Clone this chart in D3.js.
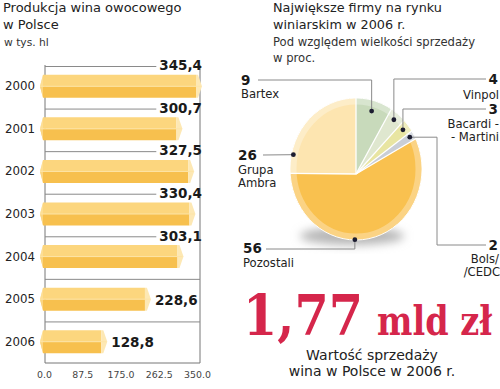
<!DOCTYPE html>
<html>
<head>
<meta charset="utf-8">
<script src="https://cdn.jsdelivr.net/npm/d3@7"></script>
<style>
  html, body { margin: 0; padding: 0; background: #fff; }
  svg { display: block; font-family: "DejaVu Sans", sans-serif; }
</style>
</head>
<body>
<svg id="chart" width="500" height="389"></svg>
<script>
// ---------- DATA ----------
const years = ["2000", "2001", "2002", "2003", "2004", "2005", "2006"];
const production = [345.4, 300.7, 327.5, 330.4, 303.1, 228.6, 128.8];
const xTicks = [0, 87.5, 175, 262.5, 350];

const firms = ["Bartex", "Vinpol", "Bacardi - Martini", "Bols/CEDC", "Pozostali", "Grupa Ambra"];
const shares = [9, 4, 3, 2, 56, 26];

const leftTitle = ["Produkcja wina owocowego", "w Polsce"];
const leftUnit = "w tys. hl";
const rightTitle = ["Największe firmy na rynku", "winiarskim w 2006 r."];
const rightSub = ["Pod względem wielkości sprzedaży", "w proc."];
const bigValue = "1,77";
const bigUnit = "mld zł";
const bigCaption = ["Wartość sprzedaży", "wina w Polsce w 2006 r."];

// ---------- SETUP ----------
const svg = d3.select("#chart");
const fmtComma = v => d3.format(".1f")(v).replace(".", ",");
const txtColor = "#222";

const defs = svg.append("defs");
defs.append("filter").attr("id", "blur").attr("x", "-50%").attr("y", "-50%").attr("width", "200%").attr("height", "200%")
  .append("feGaussianBlur").attr("stdDeviation", 5);

// ---------- LEFT: BAR CHART ----------
svg.selectAll("text.ltitle").data(leftTitle).join("text")
  .attr("x", 3).attr("y", (d, i) => 12 + i * 17)
  .attr("font-size", 13).attr("fill", txtColor).text(d => d);
svg.append("text").attr("x", 4).attr("y", 46).attr("font-size", 10.7).attr("fill", "#333").text(leftUnit);

const x = d3.scaleLinear().domain([0, 350]).range([45, 198]);
const y = d3.scaleBand().domain(years).range([65, 363]).paddingInner(0.46).paddingOuter(0.23);
const step = y.step();
const bh = y.bandwidth();
const frameRight = 200, frameTop = 65, frameBottom = 363;

const gBars = svg.append("g");
gBars.append("line").attr("x1", x(0)).attr("x2", x(0)).attr("y1", frameTop).attr("y2", frameBottom)
  .attr("stroke", "#777").attr("stroke-width", 1);
gBars.append("line").attr("x1", frameRight).attr("x2", frameRight).attr("y1", frameTop).attr("y2", frameBottom)
  .attr("stroke", "#777").attr("stroke-width", 1);
gBars.append("line").attr("x1", x(0)).attr("x2", frameRight).attr("y1", frameBottom).attr("y2", frameBottom)
  .attr("stroke", "#777").attr("stroke-width", 1);

years.forEach((yr, i) => {
  const v = production[i];
  const y0 = y(yr), y1 = y0 + bh, yc = y0 + bh / 2;
  const x0 = x(0), xv = x(v);
  const slotTop = y0 - (step - bh) / 2;
  const g = gBars.append("g");

  const lab = g.append("text").attr("font-size", 13.5).attr("font-weight", "bold").attr("fill", "#1a1a1a")
    .text(fmtComma(v));
  const w = lab.node().getComputedTextLength();
  let gridEnd;
  if (xv + 11 + w <= frameRight) {
    lab.attr("x", xv + 10).attr("y", yc + 5.5);
    gridEnd = frameRight;
  } else {
    lab.attr("x", 202).attr("y", y0 - 4.5).attr("text-anchor", "end");
    gridEnd = 202 - w - 3;
  }
  g.append("line").attr("x1", x0).attr("x2", gridEnd).attr("y1", slotTop + 1.5).attr("y2", slotTop + 1.5)
    .attr("stroke", "#8a8a8a").attr("stroke-width", 1);

  g.append("path").attr("d", d3.line()([[x0 - 5, yc], [x0 - 2, y0], [xv, y0], [xv, yc]]) + "Z").attr("fill", "#fcd67e");
  g.append("path").attr("d", d3.line()([[x0 - 5, yc], [xv, yc], [xv, y1], [x0 - 2, y1]]) + "Z").attr("fill", "#f7c04e");
  g.append("path").attr("d", d3.line()([[xv, y0], [xv + 2, y0], [xv + 6, yc], [xv + 2, y1], [xv, y1]]) + "Z").attr("fill", "#fde8b4");
  g.append("line").attr("x1", x0 - 5).attr("x2", xv + 5).attr("y1", yc).attr("y2", yc)
    .attr("stroke", "#fde4a6").attr("stroke-width", 1);
  g.append("path").attr("d", d3.line()([[x0 - 5, yc], [x0 - 2, y0], [x0 - 2, y1]]) + "Z").attr("fill", "#fde3a4").attr("opacity", 0.6);

  g.append("text").attr("x", 35).attr("y", yc + 4).attr("text-anchor", "end")
    .attr("font-size", 11.8).attr("fill", txtColor).text(yr);
});

const ax = svg.append("g").attr("transform", `translate(-1,${frameBottom})`)
  .call(d3.axisBottom(x).tickValues(xTicks).tickFormat(d3.format(".1f")).tickSize(0).tickPadding(8));
ax.select(".domain").remove();
ax.selectAll("text").attr("font-size", 9.4).attr("fill", "#444").attr("font-family", "'DejaVu Sans', sans-serif");

// ---------- RIGHT: PIE ----------
svg.selectAll("text.rtitle").data(rightTitle).join("text")
  .attr("x", 273).attr("y", (d, i) => 12 + i * 17)
  .attr("font-size", 12.8).attr("fill", txtColor).text(d => d);
svg.selectAll("text.rsub").data(rightSub).join("text")
  .attr("x", 273).attr("y", (d, i) => 46 + i * 16)
  .attr("font-size", 11.6).attr("fill", "#333").text(d => d);

const pieColors = ["#c8dabb", "#dfe7cf", "#e8e5a2", "#c9ced6", "#f9c14f", "#fde5b0"];
const cx = 356, cy = 169, rx = 66, ry = 71;
const apex = [356, 174];
const arcs = d3.pie().sort(null).value(d => d)(shares);
const ePt = (a, f = 1) => [cx + f * rx * Math.sin(a), cy - f * ry * Math.cos(a)];
const slicePath = (a0, a1, f = 1) => {
  const n = Math.max(3, Math.ceil((a1 - a0) / 0.02));
  const pts = [apex];
  for (let k = 0; k <= n; k++) pts.push(ePt(a0 + (a1 - a0) * k / n, f));
  return d3.line()(pts) + "Z";
};

const gPie = svg.append("g");
gPie.append("ellipse").attr("cx", 352).attr("cy", 236).attr("rx", 52).attr("ry", 9)
  .attr("fill", "#b5b5b5").attr("filter", "url(#blur)");
gPie.selectAll("path.slice").data(arcs).join("path")
  .attr("d", d => slicePath(d.startAngle, d.endAngle))
  .attr("fill", (d, i) => pieColors[i]);
gPie.append("ellipse").attr("cx", cx).attr("cy", cy).attr("rx", rx - 3.5).attr("ry", ry - 3.5)
  .attr("fill", "none").attr("stroke", "#fff").attr("stroke-opacity", 0.3).attr("stroke-width", 6);
gPie.selectAll("path.sep").data(arcs).join("path")
  .attr("d", d => d3.line()([apex, ePt(d.startAngle)]))
  .attr("stroke", "#fff").attr("stroke-width", 1.3);
gPie.append("ellipse").attr("cx", cx).attr("cy", cy).attr("rx", rx).attr("ry", ry)
  .attr("fill", "none").attr("stroke", "#fff").attr("stroke-width", 1);

const deg = Math.PI / 180;
const layout = [
  { ang: null, f: 0.85, path: p => [[258, 80], [p[0], 80], p], num: [241, 85, "start"], names: [[241, 98]] },
  { ang: null, f: 0.9, path: p => [[486, 79], [p[0], 79], p], num: [498, 84, "end"], names: [[499, 98.5]] },
  { ang: null, f: 0.9, path: p => [[486, 109], [p[0], 109], p], num: [498, 114, "end"], names: [[499, 128.3], [499, 141]] },
  { ang: null, f: 0.93, path: p => [p, [437, p[1]], [437, 245], [486, 245]], num: [498, 250, "end"], names: [[499, 263], [500, 276]] },
  { ang: 181, f: 0.995, path: p => [p, [p[0], 249], [266, 249]], num: [243, 253, "start"], names: [[243, 267]] },
  { ang: 282, f: 0.97, path: p => [[263, 155], p], num: [238, 160, "start"], names: [[238, 174], [238, 187]] }
];
const nameLines = ["Bartex", "Vinpol", "Bacardi -|- Martini", "Bols/|/CEDC", "Pozostali", "Grupa|Ambra"];

arcs.forEach((a, i) => {
  const L = layout[i];
  const ang = L.ang == null ? (a.startAngle + a.endAngle) / 2 : L.ang * deg;
  const p = ePt(ang, L.f);
  svg.append("path").attr("d", d3.line()(L.path(p))).attr("fill", "none")
    .attr("stroke", "#8a8a8a").attr("stroke-width", 1);
  svg.append("circle").attr("cx", p[0]).attr("cy", p[1]).attr("r", 2.4).attr("fill", "#1c1c30");
  svg.append("text").attr("x", L.num[0]).attr("y", L.num[1]).attr("text-anchor", L.num[2])
    .attr("font-size", 13.5).attr("font-weight", "bold").attr("fill", "#1a1a1a").text(shares[i]);
  nameLines[i].split("|").forEach((t, k) => {
    svg.append("text").attr("x", L.names[k][0]).attr("y", L.names[k][1]).attr("text-anchor", L.num[2])
      .attr("font-size", 11.6).attr("fill", "#222").text(t);
  });
});

// ---------- BIG VALUE ----------
svg.append("text").attr("x", 243).attr("y", 335).attr("font-family", "'DejaVu Serif', serif")
  .attr("font-weight", "bold").attr("font-size", 56).attr("fill", "#d5264b")
  .attr("textLength", 120).attr("lengthAdjust", "spacingAndGlyphs").text(bigValue);
svg.append("text").attr("transform", "translate(377,335) scale(1,1.24)")
  .attr("font-family", "'DejaVu Serif', serif")
  .attr("font-weight", "bold").attr("font-size", 33.5).attr("fill", "#d5264b")
  .text(bigUnit);
svg.selectAll("text.cap").data(bigCaption).join("text")
  .attr("x", 372).attr("y", (d, i) => 360 + i * 16).attr("text-anchor", "middle")
  .attr("font-size", 14).attr("fill", txtColor).text(d => d);
</script>
</body>
</html>
